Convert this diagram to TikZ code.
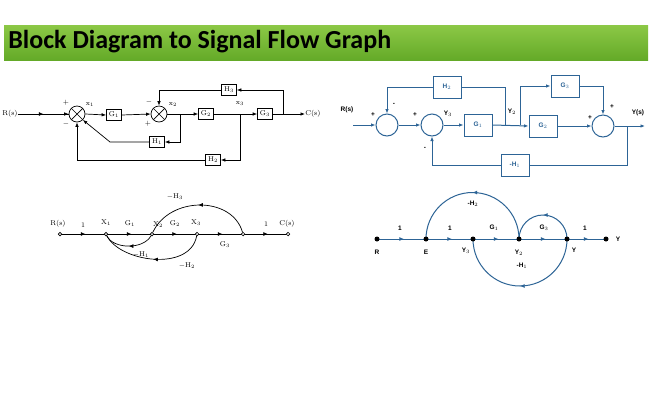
\documentclass[tikz,border=0pt]{standalone}
\usepackage{fontspec}
\newfontfamily\titlefont{Carlito}
\newfontfamily\sfb{Liberation Sans}
\usetikzlibrary{arrows.meta,decorations.markings,calc}
\definecolor{bl}{RGB}{45,100,150}
\definecolor{gtop}{RGB}{140,200,70}
\definecolor{gbot}{RGB}{100,170,40}
\begin{document}
\begin{tikzpicture}[x=1pt,y=-1pt,line width=0.7pt,
  blk/.style={draw,minimum width=15pt,minimum height=11pt,inner sep=0pt,font=\fontsize{7}{7}\selectfont},
  sumL/.style={draw,circle,minimum size=16pt,inner sep=0pt,path picture={\draw (path picture bounding box.north west)--(path picture bounding box.south east) (path picture bounding box.north east)--(path picture bounding box.south west);}},
  lt/.style={font=\fontsize{7}{7}\selectfont,inner sep=0pt},
  ar/.style={-{Latex[length=4.5pt,width=3.5pt]}},
  bblk/.style={draw=bl,line width=1pt,fill=white,minimum width=28pt,minimum height=22pt,inner sep=0pt,font=\sfb\bfseries\fontsize{6.5}{6.5}\selectfont},
  bsum/.style={draw=bl,line width=1pt,circle,minimum size=22pt,inner sep=0pt},
  bt/.style={font=\sfb\bfseries\fontsize{6.5}{6.5}\selectfont,inner sep=0pt},
  mid/.style={postaction={decorate},decoration={markings,mark=at position #1 with {\arrow{Latex[length=4.5pt,width=4pt]}}}},
  sn/.style={draw,circle,fill=white,minimum size=3.5pt,inner sep=0pt},
  bn/.style={fill,circle,minimum size=5pt,inner sep=0pt}]
\useasboundingbox (0,0) rectangle (650,400);
\fill[white] (0,0) rectangle (650,400);
\shade[top color=gtop,bottom color=gbot] (4,25) rectangle (648,60);
\node[anchor=west,font=\titlefont\bfseries\fontsize{26}{26}\selectfont,inner sep=0pt] (title) at (8,42) {Block Diagram to Signal Flow Graph};

% ---------- left block diagram
\node[lt,anchor=west] (R) at (2,114) {R(s)};
\node[sumL] (s1) at (77,114) {};
\node[blk] (G1) at (114,115) {G$_1$};
\node[sumL] (s2) at (159,114) {};
\node[blk] (G2) at (206,114) {G$_2$};
\node[blk] (G3) at (265,114) {G$_3$};
\node[lt,anchor=west] (C) at (305,114) {C(s)};
\node[blk] (H3) at (229,90) {H$_3$};
\node[blk] (H1) at (157,142) {H$_1$};
\node[blk] (H2) at (213,160) {H$_2$};
\coordinate (b2) at (180,114); \coordinate (b3) at (240,114); \coordinate (b4) at (283,114);
\draw[ar] (R.east) -- (s1.west);
\draw[mid=0.5] (R.east) -- (s1.west);
\draw[ar] (s1.east) -- (G1.west);
\draw[ar] (G1.east) -- (s2.west);
\draw[ar] (s2.east) -- (G2.west);
\draw[ar] (G2.east) -- (G3.west);
\draw[ar] (G3.east) -- (C.west);
\draw[ar] (b4) |- (H3.east);
\draw[ar] (H3.west) -| (s2.north);
\draw[ar] (b2) |- (H1.east);
\draw[ar] (H1.west) -- (110,142) -- (s1.south east);
\draw[ar] (b3) |- (H2.east);
\draw[ar] (H2.west) -| (s1.south);
\node[lt] (x1) at (90,104) {x$_1$};
\node[lt] (x2) at (173,104) {x$_2$};
\node[lt] (x3) at (240,103) {x$_3$};
\node[lt] (p1) at (66,103) {+};
\node[lt] (m1) at (66,124) {$-$};
\node[lt] (m2) at (149,102) {$-$};
\node[lt] (p2) at (148,124) {+};

% ---------- right block diagram
\begin{scope}[draw=bl,bl,line width=1pt]
\node[bt,black] (Rs) at (347,110) {R(s)};
\coordinate (rin) at (353,125);
\node[bsum] (A) at (387,125) {};
\node[bsum] (B) at (432,125) {};
\node[bblk] (bG1) at (478,125) {G$_1$};
\node[bblk] (bG2) at (543,126) {G$_2$};
\node[bblk] (bG3) at (565,86) {G$_3$};
\node[bblk] (bH2) at (447,87) {H$_2$};
\node[bsum] (Cs) at (603,126) {};
\node[bblk] (bH1) at (515,165) {-H$_1$};
\coordinate (yout) at (645,126);
\draw[ar] (rin) -- (A.west);
\draw[ar] (A.east) -- (B.west);
\draw[ar] (B.east) -- (bG1.west);
\draw[ar] (bG1.east) -- (bG2.west);
\draw (505,125) |- (bH2.east);
\draw[ar] (bH2.west) -| (A.north);
\draw[ar] (520,125) |- (bG3.west);
\draw[ar] (bG3.east) -| (Cs.north);
\draw[ar] (bG2.east) -- (Cs.west);
\draw[ar] (Cs.east) -- (yout);
\draw (627,126) |- (bH1.east);
\draw[ar] (bH1.west) -| (B.south);
\end{scope}
\node[bt] (Y3a) at (448,114) {Y$_3$};
\node[bt] (Y2a) at (512,112) {Y$_2$};
\node[bt] (Ys) at (638,113) {Y(s)};
\node[bt] (pa) at (373,115) {+};
\node[bt] (ma) at (394,104) {-};
\node[bt] (pb) at (415,115) {+};
\node[bt] (mb) at (425,148) {-};
\node[bt] (pc) at (612,107) {+};
\node[bt] (pc2) at (590,118) {+};

% ---------- left SFG
\draw[mid=0.55] (60,234) -- (106,234);
\draw[mid=0.55] (106,234) -- (152,234);
\draw[mid=0.55] (152,234) -- (197,234);
\draw[mid=0.55] (197,234) -- (243,234);
\draw[mid=0.55] (243,234) -- (288,234);
\node[sn] (nR) at (60,234) {};
\node[sn] (nX1) at (106,234) {};
\node[sn] (nX2) at (152,234) {};
\node[sn] (nX3) at (197,234) {};
\node[sn] (n5) at (243,234) {};
\node[sn] (nC) at (288,234) {};
\draw[mid=0.5] (n5) .. controls (232,196) and (170,196) .. (nX2);
\draw[mid=0.5] (nX2) .. controls (143,250) and (113,249) .. (nX1);
\draw[mid=0.5] (nX3) .. controls (190,272) and (120,262) .. (nX1);
\node[lt] at (58,224) {R(s)};
\node[lt] at (83,225) {1};
\node[lt] at (106,223) {X$_1$};
\node[lt] at (130,224) {G$_1$};
\node[lt] at (158,225) {X$_2$};
\node[lt] at (175,224) {G$_2$};
\node[lt] at (196,223) {X$_3$};
\node[lt] at (225,245) {G$_3$};
\node[lt] at (266,224) {1};
\node[lt] at (287,224) {C(s)};
\node[lt] at (175,197) {$-$H$_3$};
\node[lt] at (141,255) {$-$H$_1$};
\node[lt] at (187,266) {$-$H$_2$};

% ---------- right SFG
\begin{scope}[draw=bl,line width=1pt]
\draw[mid=0.55] (377,239) -- (426,239);
\draw[mid=0.55] (426,239) -- (473,239);
\draw[mid=0.55] (473,239) -- (519,239);
\draw[mid=0.55] (519,239) -- (567,239);
\draw[mid=0.55] (567,239) -- (606,239);
\draw[mid=0.5] (519,239) arc[start angle=0,end angle=-180,radius=46.5];
\draw[mid=0.5] (567,239) arc[start angle=0,end angle=-180,radius=24];
\draw[mid=0.5] (567,239) arc[start angle=0,end angle=180,radius=47];
\end{scope}
\node[bn] (bR) at (377,239) {};
\node[bn] (bE) at (426,239) {};
\node[bn] (bY3) at (473,239) {};
\node[bn] (bY2) at (519,239) {};
\node[bn] (bY) at (567,239) {};
\node[bn] (bYo) at (606,239) {};
\node[bt] at (377,252) {R};
\node[bt] at (426,252) {E};
\node[bt] at (466,251) {Y$_3$};
\node[bt] at (519,253) {Y$_2$};
\node[bt] at (574,250) {Y};
\node[bt] at (618,239) {Y};
\node[bt] at (400,228) {1};
\node[bt] at (450,228) {1};
\node[bt] at (494,228) {G$_1$};
\node[bt] at (544,228) {G$_3$};
\node[bt] at (585,228) {1};
\node[bt] at (473,204) {-H$_2$};
\node[bt] at (522,266) {-H$_1$};
\end{tikzpicture}
\end{document}
